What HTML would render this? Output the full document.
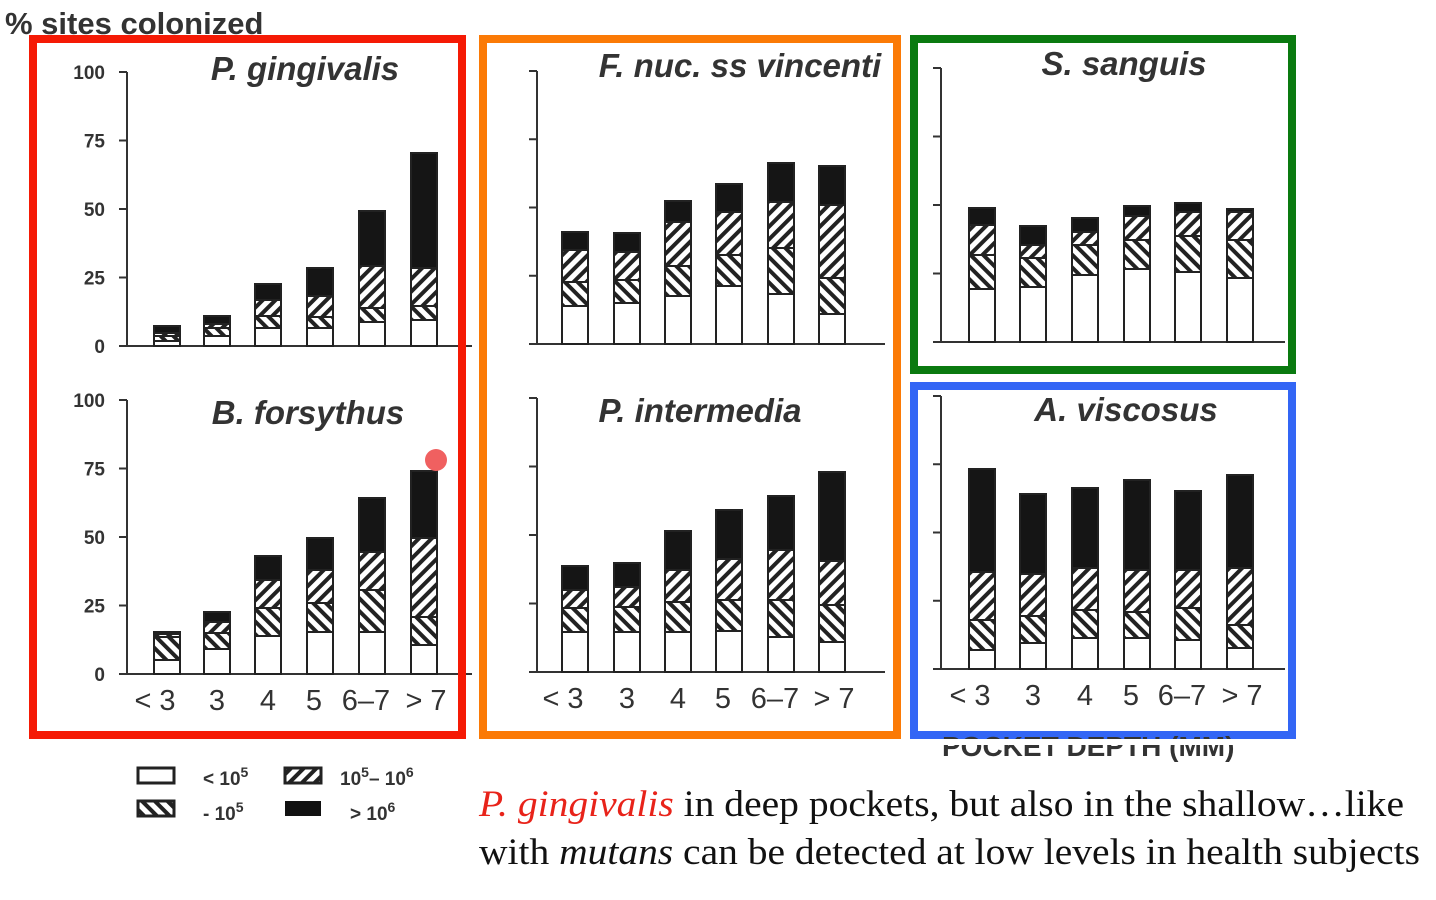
<!DOCTYPE html>
<html><head><meta charset="utf-8"><style>
body{margin:0;background:#fff;width:1436px;height:900px;overflow:hidden}
svg{display:block}
.ti{font-family:"Liberation Sans",sans-serif;font-style:italic;font-weight:bold;font-size:33px;fill:#333}
.tk{font-family:"Liberation Sans",sans-serif;font-weight:bold;font-size:19px;fill:#333}
.xl{font-family:"Liberation Sans",sans-serif;font-size:29px;fill:#333}
.cap{font-family:"Liberation Serif",serif;font-size:37px;fill:#111}
</style></head><body>
<svg id="s" width="1436" height="900" xmlns="http://www.w3.org/2000/svg">
<defs>
<pattern id="bk" width="9" height="9" patternUnits="userSpaceOnUse" patternTransform="rotate(-45)"><rect width="9" height="9" fill="#fff"/><rect width="4" height="9" fill="#222"/></pattern>
<pattern id="fw" width="9" height="9" patternUnits="userSpaceOnUse" patternTransform="rotate(45)"><rect width="9" height="9" fill="#fff"/><rect width="4" height="9" fill="#222"/></pattern>
</defs>
<text x="5" y="34" class="tk" style="font-size:31px">% sites colonized</text>
<g id="g"></g>
<rect x="33" y="39" width="429" height="696" fill="none" stroke="#f51a05" stroke-width="8"/>
<rect x="483" y="39" width="414" height="696" fill="none" stroke="#fb7a06" stroke-width="8"/>
<rect x="914" y="39" width="378" height="331" fill="none" stroke="#0a7a10" stroke-width="8"/>
<rect x="914" y="386" width="378" height="349" fill="none" stroke="#3366f5" stroke-width="8"/>
<text x="942" y="756" class="tk" style="font-size:28px">POCKET DEPTH (MM)</text>
<rect x="914" y="739" width="380" height="6" fill="#fff"/>
<rect x="138" y="768" width="36" height="15" fill="#fff" stroke="#222" stroke-width="3"/>
<rect x="138" y="801" width="36" height="15" fill="url(#bk)" stroke="#222" stroke-width="3"/>
<rect x="285" y="768" width="36" height="15" fill="url(#fw)" stroke="#222" stroke-width="3"/>
<rect x="285" y="801" width="36" height="15" fill="#111"/>
<text x="203" y="785" class="tk">&lt; 10<tspan dy="-8" font-size="14">5</tspan></text>
<text x="203" y="820" class="tk">- 10<tspan dy="-8" font-size="14">5</tspan></text>
<text x="340" y="785" class="tk">10<tspan dy="-8" font-size="14">5</tspan><tspan dy="8">– 10</tspan><tspan dy="-8" font-size="14">6</tspan></text>
<text x="350" y="820" class="tk">&gt; 10<tspan dy="-8" font-size="14">6</tspan></text>
<text x="479" y="816" class="cap" textLength="925" lengthAdjust="spacingAndGlyphs"><tspan fill="#e8231a" font-style="italic">P. gingivalis</tspan> in deep pockets, but also in the shallow…like</text>
<text x="479" y="864" class="cap" textLength="941" lengthAdjust="spacingAndGlyphs">with <tspan font-style="italic">mutans</tspan> can be detected at low levels in health subjects</text>
<circle cx="436" cy="460" r="11" fill="#f06060"/>
</svg>
<script>
var g=document.getElementById('g'),h='';
var P=[
{ax:127,xs:[167,217,268,320,372,424],z:346,t:72,x2:472,lab:1,title:'P. gingivalis',tx:305,ty:80,xt:0,
b:[[341,336,333,326],[336,328,324,316],[328,316,300,284],[328,317,296,268],[322,308,266,211],[320,306,268,153]]},
{ax:127,xs:[167,217,268,320,372,424],z:674,t:400,x2:472,lab:1,title:'B. forsythus',tx:308,ty:424,xt:1,
b:[[660,637,634,632],[649,633,622,612],[636,608,580,556],[632,603,570,538],[632,590,552,498],[645,617,538,471]]},
{ax:537,xs:[575,627,678,729,781,832],z:344,t:71,x2:885,lab:0,title:'F. nuc. ss vincenti',tx:740,ty:77,xt:0,
b:[[306,282,250,232],[303,280,252,233],[296,266,222,201],[286,255,212,184],[294,248,202,163],[314,278,205,166]]},
{ax:537,xs:[575,627,678,729,781,832],z:672,t:398,x2:885,lab:0,title:'P. intermedia',tx:700,ty:422,xt:1,
b:[[632,608,590,566],[632,607,587,563],[632,602,570,531],[631,600,559,510],[637,600,550,496],[642,605,561,472]]},
{ax:941,xs:[982,1033,1085,1137,1188,1240],z:342,t:68,x2:1285,lab:0,title:'S. sanguis',tx:1124,ty:75,xt:0,
b:[[289,255,225,208],[287,258,245,226],[275,245,232,218],[269,240,216,206],[272,236,212,203],[278,240,212,209]]},
{ax:941,xs:[982,1033,1085,1137,1188,1240],z:669,t:396,x2:1285,lab:0,title:'A. viscosus',tx:1126,ty:421,xt:1,
b:[[650,620,572,469],[643,616,574,494],[638,610,568,488],[638,612,570,480],[640,608,570,491],[648,625,568,475]]}];
var xl=['< 3','3','4','5','6–7','> 7'];
P.forEach(function(p){
 var sc=(p.z-p.t)/100;
 h+='<line x1="'+p.ax+'" y1="'+p.t+'" x2="'+p.ax+'" y2="'+p.z+'" stroke="#333" stroke-width="2"/>';
 h+='<line x1="'+(p.ax-8)+'" y1="'+p.z+'" x2="'+p.x2+'" y2="'+p.z+'" stroke="#333" stroke-width="2"/>';
 for(var v=0;v<=100;v+=25){var y=p.z-v*sc;
  h+='<line x1="'+(p.ax-8)+'" y1="'+y+'" x2="'+p.ax+'" y2="'+y+'" stroke="#333" stroke-width="2"/>';
  if(p.lab)h+='<text x="'+(p.ax-22)+'" y="'+(y+7)+'" text-anchor="end" class="tk">'+v+'</text>';}
 h+='<text x="'+p.tx+'" y="'+p.ty+'" text-anchor="middle" class="ti">'+p.title+'</text>';
 p.b.forEach(function(b,i){var x=p.xs[i]-13,w=26;
  var segs=[[p.z,b[0],'#fff'],[b[0],b[1],'url(#bk)'],[b[1],b[2],'url(#fw)'],[b[2],b[3],'#151515']];
  segs.forEach(function(s){if(s[0]-s[1]>0)h+='<rect x="'+x+'" y="'+s[1]+'" width="'+w+'" height="'+(s[0]-s[1])+'" fill="'+s[2]+'" stroke="#222" stroke-width="2"/>';});
 });
 if(p.xt){
  var pos=[p.xs[0]-12,p.xs[1],p.xs[2],p.xs[3]-6,p.xs[4]-6,p.xs[5]+2];
  xl.forEach(function(t,i){h+='<text x="'+pos[i]+'" y="'+(p.z+36)+'" text-anchor="middle" class="xl">'+t.replace('<','&lt;').replace('>','&gt;')+'</text>';});}
});
g.innerHTML=h;
</script>
</body></html>
